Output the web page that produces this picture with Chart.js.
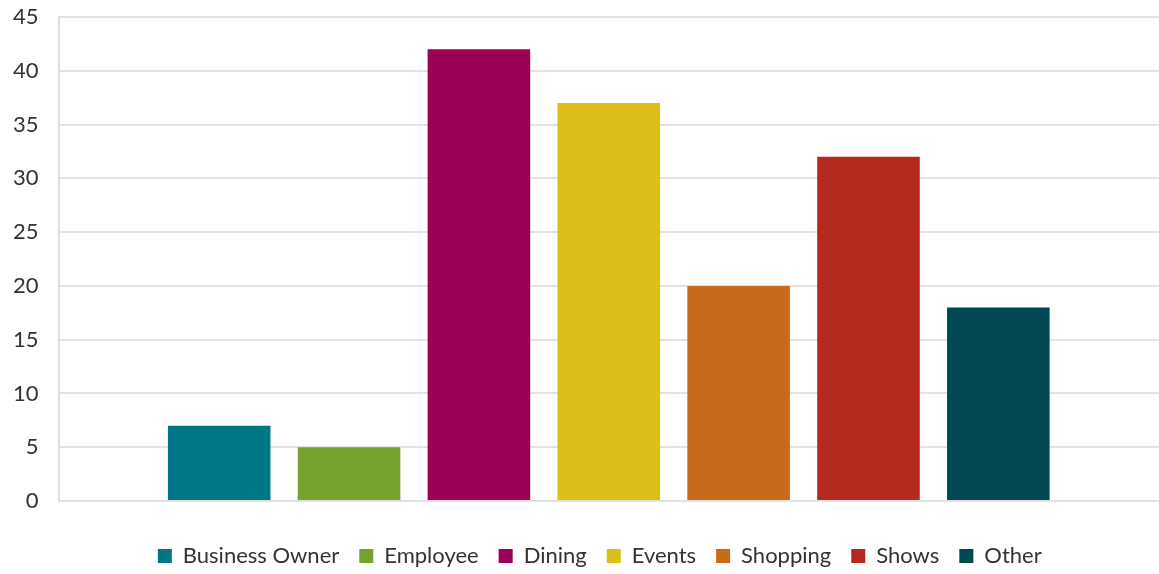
<!DOCTYPE html>
<html>
<head>
<meta charset="utf-8">
<script src="https://cdn.jsdelivr.net/npm/chart.js@4/dist/chart.umd.min.js"></script>
<style>
  html,body{margin:0;padding:0;background:#fff;}
  #wrap{width:1159px;height:574px;}
</style>
</head>
<body>
<div id="wrap"><canvas id="myChart"></canvas></div>
<script>
const categories=['Business Owner','Employee','Dining','Events','Shopping','Shows','Other'];
const values=[7,5,42,37,20,32,18];
const colors=['#007786','#78a22f','#9c0057','#dbbe17','#c96a1b','#b5291f','#004853'];
const yTicks=[0,5,10,15,20,25,30,35,40,45];

// nudge legend a bit to the left, like the original
const legendShift={
  id:'legendShift',
  afterLayout:chart=>{
    chart.legend.left-=9;
    chart.legend.right-=9;
  }
};

window.onload=()=>{
  const ctx=document.getElementById('myChart');
  const datasets=categories.map((name,i)=>{
    return {
      label:name,
      data:[values[i]],
      backgroundColor:colors[i],
      borderWidth:0,
      categoryPercentage:0.826,
      barPercentage:0.79
    }
  });
  new Chart(ctx,{
    type:'bar',
    data:{labels:[''],datasets:datasets},
    plugins:[legendShift],
    options:{
      responsive:true,
      maintainAspectRatio:false,
      animation:false,
      layout:{padding:{top:0,right:-14,left:-7,bottom:-3}},
      plugins:{
        tooltip:{enabled:false},
        legend:{
          position:'bottom',
          fullSize:false,
          labels:{
            boxWidth:14,
            boxHeight:14,
            padding:20,
            color:'#333',
            font:{family:'Lato',size:22}
          }
        }
      },
      scales:{
        x:{
          ticks:{display:false},
          grid:{display:false},
          border:{display:true,color:'#e0e0e0',width:2},
          afterFit:axis=>{axis.height=24}
        },
        y:{
          min:0,max:45,
          afterBuildTicks:axis=>{axis.ticks=yTicks.map(v=>({value:v}))},
          ticks:{color:'#333',font:{family:'Lato',size:22},padding:20},
          grid:{color:'#e3e3e3',lineWidth:2,drawTicks:false},
          border:{display:true,color:'#e0e0e0',width:2},
          afterFit:axis=>{axis.paddingTop=17;axis.paddingBottom=12}
        }
      }
    }
  });
}
</script>
</body>
</html>
